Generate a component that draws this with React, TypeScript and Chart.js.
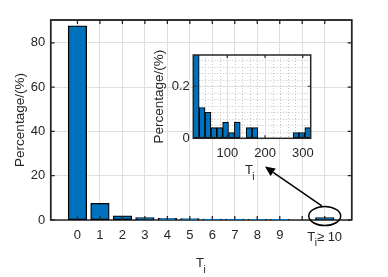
import React, { useEffect, useRef } from 'react';
import { Chart, registerables } from 'chart.js';

Chart.register(...registerables);

const W = 388;
const H = 277;
const FONT = "'Liberation Sans', Arial, Helvetica, sans-serif";
const INK = '#262626';
const GRID = '#dfdfdf';
const MINOR = '#c4c4c4';
const BAR = '#0072bd';

// ---- main histogram data ----
const mainTickPositions = [0, 1, 2, 3, 4, 5, 6, 7, 8, 9, 10, 11];
const mainTickLabels = ['0', '1', '2', '3', '4', '5', '6', '7', '8', '9', '', ''];
const mainLastTick = { position: 11, base: 'T', sub: 'i', rest: '\u2265 10' };
const mainBarPositions = [0, 1, 2, 3, 4, 5, 6, 7, 8, 9, 11];
const mainPercentages = [87.6, 7.4, 1.8, 1.0, 0.6, 0.5, 0.3, 0.3, 0.15, 0.1, 1.0];
const mainYTicks = [0, 20, 40, 60, 80];
const mainXRange = [-1.19, 12.2];
const mainYMax = 90.3;

// ---- inset histogram data (T_i >= 10) ----
const insetBinCenters = [17.8, 33.3, 48.9, 64.4, 80.0, 95.5, 111.1, 126.6, 142.2, 157.7, 173.3, 188.8, 204.4, 219.9, 235.5, 251.0, 266.6, 282.1, 297.7, 313.2];
const insetPercentages = [0.4, 0.118, 0.1, 0.041, 0.041, 0.062, 0.022, 0.062, 0, 0.041, 0.041, 0, 0, 0, 0, 0, 0, 0.022, 0.022, 0.041];
const insetXTicks = [100, 200, 300];
const insetXTickLabels = ['100', '200', '300'];
const insetYTicks = [0, 0.2];
const insetYTickLabels = ['0', '0.2'];
const insetXRange = [10, 321];
const insetYMax = 0.32;

// ---- annotation (in main-chart data coordinates) ----
const calloutCenter = { x: 11, y: 1.8 };
const calloutRadius = { x: 0.71, y: 4.3 };
const arrowFrom = { x: 10.87, y: 6.4 };
const arrowTo = { x: 8.34, y: 24.1 };

const axisTitle = 'Percentage/(%)';

function drawSubLabel(ctx: CanvasRenderingContext2D, cx: number, baseline: number, size: number, base: string, sub: string, rest: string) {
  ctx.save();
  ctx.fillStyle = INK;
  ctx.textBaseline = 'alphabetic';
  ctx.textAlign = 'left';
  const subSize = size * 0.78;
  ctx.font = `${size}px ${FONT}`;
  const wB = ctx.measureText(base).width;
  const wR = rest ? ctx.measureText(rest).width : 0;
  ctx.font = `${subSize}px ${FONT}`;
  const wS = ctx.measureText(sub).width;
  const gap = rest ? wS * 0.7 : 0;
  const total = rest ? wB + gap + wR : wB + wS;
  const x = cx - total / 2;
  ctx.font = `${size}px ${FONT}`;
  ctx.fillText(base, x, baseline);
  ctx.font = `${subSize}px ${FONT}`;
  ctx.fillText(sub, x + wB - 0.5, baseline + size * 0.45);
  if (rest) {
    ctx.font = `${size}px ${FONT}`;
    ctx.fillText(rest, x + wB + gap, baseline);
  }
  ctx.restore();
}

function drawRotated(ctx: CanvasRenderingContext2D, text: string, cx: number, cy: number, size: number) {
  ctx.save();
  ctx.translate(cx, cy);
  ctx.rotate(-Math.PI / 2);
  ctx.font = `${size}px ${FONT}`;
  ctx.fillStyle = INK;
  ctx.textAlign = 'center';
  ctx.textBaseline = 'middle';
  ctx.fillText(text, 0, 0);
  ctx.restore();
}

const mainDecor = {
  id: 'mainDecor',
  beforeDatasetsDraw(chart: any) {
    const { ctx, chartArea: a } = chart;
    ctx.save();
    ctx.strokeStyle = INK;
    ctx.lineWidth = 1.5;
    ctx.strokeRect(a.left, a.top, a.right - a.left, a.bottom - a.top);
    ctx.restore();
  },
  afterDatasetsDraw(chart: any) {
    const { ctx, chartArea: a, scales } = chart;
    const x = scales.x;
    const y = scales.y;
    ctx.save();
    ctx.strokeStyle = INK;
    ctx.lineWidth = 1.3;
    const tl = 4;
    ctx.beginPath();
    mainTickPositions.forEach((v) => {
      const px = x.getPixelForValue(v);
      ctx.moveTo(px, a.bottom);
      ctx.lineTo(px, a.bottom - tl);
      ctx.moveTo(px, a.top);
      ctx.lineTo(px, a.top + tl);
    });
    mainYTicks.forEach((v) => {
      const py = y.getPixelForValue(v);
      ctx.moveTo(a.left, py);
      ctx.lineTo(a.left + tl, py);
      ctx.moveTo(a.right, py);
      ctx.lineTo(a.right - tl, py);
    });
    ctx.stroke();
    ctx.lineWidth = 1.5;
    ctx.beginPath();
    ctx.moveTo(a.left, a.bottom);
    ctx.lineTo(a.left, a.top);
    ctx.lineTo(a.right, a.top);
    ctx.lineTo(a.right, a.bottom);
    ctx.stroke();
    ctx.restore();
  },
  afterDraw(chart: any) {
    const { ctx, chartArea: a, scales } = chart;
    const x = scales.x;
    const y = scales.y;
    drawSubLabel(ctx, x.getPixelForValue(mainLastTick.position), 240.5, 13, mainLastTick.base, mainLastTick.sub, mainLastTick.rest);
    drawSubLabel(ctx, (a.left + a.right) / 2, 266.7, 13, 'T', 'i', '');
    drawRotated(ctx, axisTitle, 20, (a.top + a.bottom) / 2, 13.5);
    ctx.save();
    ctx.strokeStyle = '#000';
    ctx.fillStyle = '#000';
    ctx.lineWidth = 1.5;
    const ex = x.getPixelForValue(calloutCenter.x);
    const ey = y.getPixelForValue(calloutCenter.y);
    const rx = Math.abs(x.getPixelForValue(calloutCenter.x + calloutRadius.x) - ex);
    const ry = Math.abs(y.getPixelForValue(calloutCenter.y + calloutRadius.y) - ey);
    ctx.beginPath();
    ctx.ellipse(ex, ey, rx, ry, 0, 0, Math.PI * 2);
    ctx.stroke();
    const x0 = x.getPixelForValue(arrowFrom.x);
    const y0 = y.getPixelForValue(arrowFrom.y);
    const x1 = x.getPixelForValue(arrowTo.x);
    const y1 = y.getPixelForValue(arrowTo.y);
    const ang = Math.atan2(y1 - y0, x1 - x0);
    const hl = 10;
    const hw = 4.5;
    const bx = x1 - hl * Math.cos(ang);
    const by = y1 - hl * Math.sin(ang);
    ctx.beginPath();
    ctx.moveTo(x0, y0);
    ctx.lineTo(bx, by);
    ctx.stroke();
    ctx.beginPath();
    ctx.moveTo(x1, y1);
    ctx.lineTo(bx + hw * Math.sin(ang), by - hw * Math.cos(ang));
    ctx.lineTo(bx - hw * Math.sin(ang), by + hw * Math.cos(ang));
    ctx.closePath();
    ctx.fill();
    ctx.restore();
  },
};

const insetDecor = {
  id: 'insetDecor',
  beforeDraw(chart: any) {
    const { ctx, chartArea: a, scales } = chart;
    const x = scales.x;
    const y = scales.y;
    ctx.save();
    ctx.fillStyle = '#ffffff';
    ctx.fillRect(a.left, a.top, a.right - a.left, a.bottom - a.top);
    ctx.strokeStyle = MINOR;
    ctx.lineWidth = 1;
    ctx.setLineDash([1, 2]);
    ctx.beginPath();
    for (let v = 20; v < insetXRange[1]; v += 20) {
      if (insetXTicks.includes(v)) continue;
      const px = Math.round(x.getPixelForValue(v)) + 0.5;
      ctx.moveTo(px, a.top);
      ctx.lineTo(px, a.bottom);
    }
    for (let k = 1; k * 0.025 < insetYMax; k++) {
      const v = k * 0.025;
      if (Math.abs(v - 0.2) < 1e-6) continue;
      const py = Math.round(y.getPixelForValue(v)) + 0.5;
      ctx.moveTo(a.left, py);
      ctx.lineTo(a.right, py);
    }
    ctx.stroke();
    ctx.restore();
  },
  afterDatasetsDraw(chart: any) {
    const { ctx, chartArea: a, scales } = chart;
    const x = scales.x;
    const y = scales.y;
    ctx.save();
    ctx.strokeStyle = INK;
    ctx.lineWidth = 1.2;
    const tl = 3;
    ctx.beginPath();
    insetXTicks.forEach((v) => {
      const px = x.getPixelForValue(v);
      ctx.moveTo(px, a.bottom);
      ctx.lineTo(px, a.bottom - tl);
      ctx.moveTo(px, a.top);
      ctx.lineTo(px, a.top + tl);
    });
    insetYTicks.forEach((v) => {
      const py = y.getPixelForValue(v);
      ctx.moveTo(a.left, py);
      ctx.lineTo(a.left + tl, py);
      ctx.moveTo(a.right, py);
      ctx.lineTo(a.right - tl, py);
    });
    ctx.stroke();
    ctx.lineWidth = 1.5;
    ctx.strokeRect(a.left, a.top, a.right - a.left, a.bottom - a.top);
    ctx.restore();
  },
  afterDraw(chart: any) {
    const { ctx, chartArea: a } = chart;
    drawSubLabel(ctx, (a.left + a.right) / 2 - 2, 174, 13, 'T', 'i', '');
    drawRotated(ctx, axisTitle, 159, (a.top + a.bottom) / 2, 13.5);
  },
};

const tickFont = { family: FONT, size: 13 };

export default function App() {
  const mainRef = useRef<HTMLCanvasElement | null>(null);
  const insetRef = useRef<HTMLCanvasElement | null>(null);

  useEffect(() => {
    if (!mainRef.current || !insetRef.current) return;
    const main = new Chart(mainRef.current, {
      type: 'bar',
      data: {
        datasets: [
          {
            data: mainBarPositions.map((p, i) => ({ x: p, y: mainPercentages[i] })),
            backgroundColor: BAR,
            borderColor: '#000000',
            borderWidth: 1.3,
            borderSkipped: false,
            inflateAmount: 0.6,
            categoryPercentage: 1,
            barPercentage: 0.8,
          } as any,
        ],
      },
      options: {
        responsive: false,
        animation: false,
        devicePixelRatio: 1,
        layout: { padding: { left: 0, top: 20, right: W - 351.7, bottom: 0 } },
        plugins: { legend: { display: false }, tooltip: { enabled: false } },
        scales: {
          x: {
            type: 'linear',
            min: mainXRange[0],
            max: mainXRange[1],
            offset: false,
            grid: { color: GRID, lineWidth: 1, drawTicks: false, offset: false },
            border: { display: false },
            afterBuildTicks: (s: any) => {
              s.ticks = mainTickPositions.map((value) => ({ value }));
            },
            afterFit: (s: any) => {
              s.height = H - 220;
            },
            ticks: {
              autoSkip: false,
              maxRotation: 0,
              padding: 8,
              color: INK,
              font: tickFont,
              callback: (v: any) => {
                const i = mainTickPositions.indexOf(Number(v));
                return i >= 0 ? mainTickLabels[i] : '';
              },
            },
          },
          y: {
            type: 'linear',
            min: 0,
            max: mainYMax,
            grid: { color: GRID, lineWidth: 1, drawTicks: false },
            border: { display: false },
            afterBuildTicks: (s: any) => {
              s.ticks = mainYTicks.map((value) => ({ value }));
            },
            afterFit: (s: any) => {
              s.width = 50.7;
            },
            ticks: { padding: 5.5, color: INK, font: tickFont },
          },
        },
      } as any,
      plugins: [mainDecor],
    });

    const inset = new Chart(insetRef.current, {
      type: 'bar',
      data: {
        datasets: [
          {
            data: insetBinCenters.map((c, i) => ({ x: c, y: insetPercentages[i] })),
            backgroundColor: BAR,
            borderColor: '#000000',
            borderWidth: 1.1,
            borderSkipped: false,
            categoryPercentage: 1,
            barPercentage: 1,
          } as any,
        ],
      },
      options: {
        responsive: false,
        animation: false,
        devicePixelRatio: 1,
        layout: { padding: { left: 0, top: 55, right: W - 310.7, bottom: 0 } },
        plugins: { legend: { display: false }, tooltip: { enabled: false } },
        scales: {
          x: {
            type: 'linear',
            min: insetXRange[0],
            max: insetXRange[1],
            offset: false,
            grid: { color: GRID, lineWidth: 1, drawTicks: false, offset: false },
            border: { display: false },
            afterBuildTicks: (s: any) => {
              s.ticks = insetXTicks.map((value) => ({ value }));
            },
            afterFit: (s: any) => {
              s.height = H - 138.3;
            },
            ticks: {
              autoSkip: false,
              maxRotation: 0,
              padding: 7,
              color: INK,
              font: tickFont,
              callback: (v: any) => {
                const i = insetXTicks.indexOf(Number(v));
                return i >= 0 ? insetXTickLabels[i] : '';
              },
            },
          },
          y: {
            type: 'linear',
            min: 0,
            max: insetYMax,
            grid: { color: GRID, lineWidth: 1, drawTicks: false },
            border: { display: false },
            afterBuildTicks: (s: any) => {
              s.ticks = insetYTicks.map((value) => ({ value }));
            },
            afterFit: (s: any) => {
              s.width = 193.3;
            },
            ticks: {
              padding: 3.5,
              color: INK,
              font: tickFont,
              callback: (v: any) => {
                const i = insetYTicks.findIndex((t) => Math.abs(t - Number(v)) < 1e-9);
                return i >= 0 ? insetYTickLabels[i] : '';
              },
            },
          },
        },
      } as any,
      plugins: [insetDecor],
    });

    return () => {
      main.destroy();
      inset.destroy();
    };
  }, []);

  const canvasStyle: React.CSSProperties = { position: 'absolute', left: 0, top: 0, width: W, height: H };
  return (
    <div style={{ position: 'fixed', left: 0, top: 0, width: W, height: H, background: '#ffffff' }}>
      <canvas ref={mainRef} width={W} height={H} style={canvasStyle} />
      <canvas ref={insetRef} width={W} height={H} style={canvasStyle} />
    </div>
  );
}
